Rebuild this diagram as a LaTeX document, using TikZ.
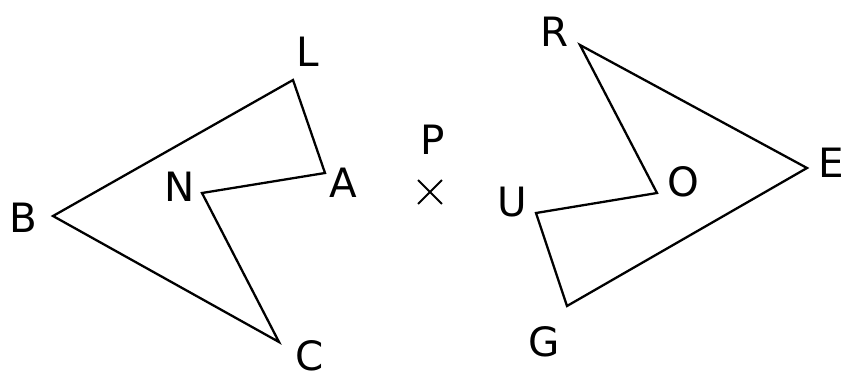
\documentclass[tikz,border=0pt]{standalone}
\usetikzlibrary{shapes.misc}
\usepackage{fontspec}
\setmainfont{DejaVu Sans}
\begin{document}
\begin{tikzpicture}[x=0.02cm,y=-0.02cm,line width=1.3pt,line join=miter,
    every node/.style={font=\fontsize{23}{24}\selectfont,inner sep=0pt}]
    \useasboundingbox (0,0) rectangle (845,379);

    % left figure
    \coordinate (b) at (53,216);
    \coordinate (l) at (293,80);
    \coordinate (a) at (325,173);
    \coordinate (n) at (202,193);
    \coordinate (c) at (279,342);
    \draw (b) -- (l) -- (a) -- (n) -- (c) -- cycle;

    % right figure
    \coordinate (r) at (580,45);
    \coordinate (e) at (807,168);
    \coordinate (g) at (567,306);
    \coordinate (u) at (536,213);
    \coordinate (o) at (657,193);
    \draw (r) -- (e) -- (g) -- (u) -- (o) -- cycle;

    % centre
    \node[cross out,draw,line width=1.1pt,minimum size=0.44cm] at (430,192) (p) {};
    \node at (433,140) (pl) {P};

    \node at (308,52) (ll) {L};
    \node at (343,183) (al) {A};
    \node at (180,187) (nl) {N};
    \node at (23,218) (bl) {B};
    \node at (310,356) (cl) {C};
    \node at (555,32) (rl) {R};
    \node at (831,163) (el) {E};
    \node at (683,182) (ol) {O};
    \node at (512,202) (ul) {U};
    \node at (544,342) (gl) {G};
\end{tikzpicture}
\end{document}
